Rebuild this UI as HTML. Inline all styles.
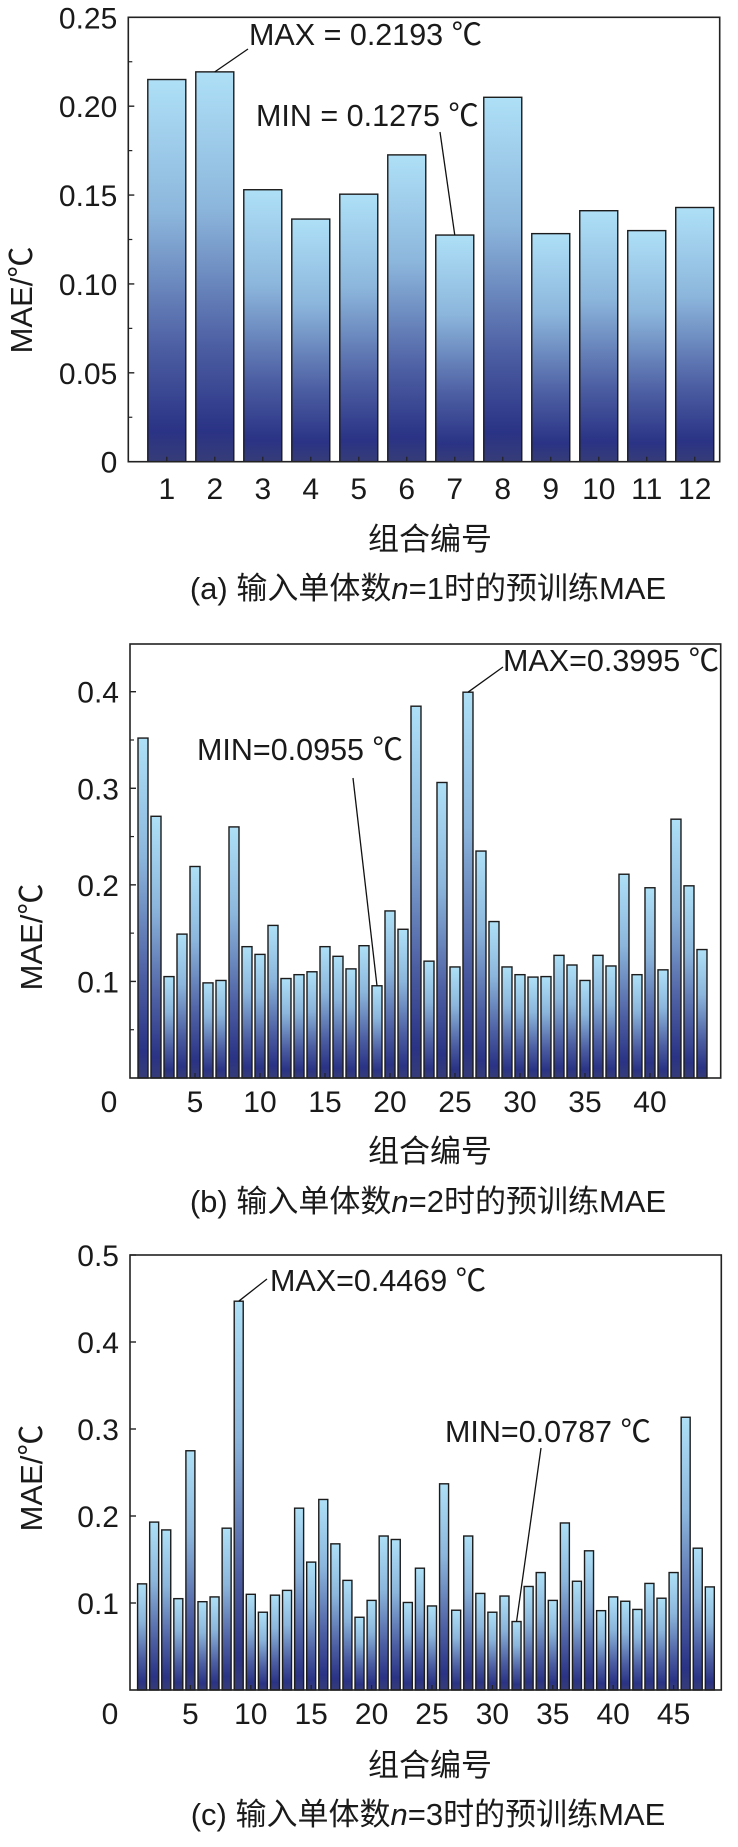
<!DOCTYPE html>
<html><head><meta charset="utf-8">
<style>
html,body{margin:0;padding:0;background:#fff;}
svg{display:block;}
text{font-family:"Liberation Sans","Noto Sans CJK SC",sans-serif;fill:#1a1a1a;}
</style></head>
<body>
<svg id="fig" width="738" height="1847" viewBox="0 0 738 1847" xmlns="http://www.w3.org/2000/svg">
<defs>
<linearGradient id="barGrad" x1="0" y1="0" x2="0" y2="1">
<stop offset="0" stop-color="#aee0f7"/>
<stop offset="0.35" stop-color="#8cb6dc"/>
<stop offset="0.7" stop-color="#4d5fa3"/>
<stop offset="0.92" stop-color="#2a3385"/>
<stop offset="1" stop-color="#363c78"/>
</linearGradient>
</defs>
<g id="chartA"></g>
<g id="chartB"></g>
<g id="chartC"></g>
</svg>
<script>
// Chart (a) data
const catsA = [1,2,3,4,5,6,7,8,9,10,11,12];
const valsA = [0.215,0.2193,0.153,0.1365,0.1505,0.1726,0.1275,0.205,0.1283,0.1412,0.130,0.143];
const yTicksA = [0,0.05,0.10,0.15,0.20,0.25];
const yTickLabelsA = ["0","0.05","0.10","0.15","0.20","0.25"];
const xTickLabelsA = ["1","2","3","4","5","6","7","8","9","10","11","12"];
// Chart (b) data
const valsB = [0.352,0.271,0.105,0.149,0.219,0.0985,0.101,0.260,0.136,0.128,0.158,0.103,0.107,0.110,0.136,0.126,0.113,0.137,0.0955,0.173,0.154,0.385,0.121,0.306,0.115,0.3995,0.235,0.162,0.115,0.107,0.1045,0.105,0.127,0.117,0.101,0.127,0.116,0.211,0.107,0.197,0.112,0.268,0.199,0.133];
const yTicksB = [0.1,0.2,0.3,0.4];
const yTickLabelsB = ["0.1","0.2","0.3","0.4"];
const xTicksB = [5,10,15,20,25,30,35,40];
// Chart (c) data
const valsC = [0.122,0.193,0.184,0.105,0.275,0.1015,0.107,0.186,0.4469,0.110,0.0894,0.109,0.1145,0.209,0.147,0.219,0.168,0.126,0.0836,0.103,0.177,0.173,0.1006,0.140,0.0966,0.237,0.0917,0.177,0.111,0.0894,0.108,0.0787,0.119,0.135,0.103,0.192,0.125,0.160,0.0912,0.107,0.102,0.0926,0.1225,0.1055,0.135,0.3135,0.163,0.1185];
const yTicksC = [0.1,0.2,0.3,0.4,0.5];
const yTickLabelsC = ["0.1","0.2","0.3","0.4","0.5"];
const xTicksC = [5,10,15,20,25,30,35,40,45];

const NS = "http://www.w3.org/2000/svg";
function mk(parent, tag, attrs, txt){
  const e = document.createElementNS(NS, tag);
  for (const k in attrs) e.setAttribute(k, attrs[k]);
  if (txt !== undefined) e.textContent = txt;
  parent.appendChild(e);
  return e;
}

function drawChart(g, cfg){
  const L=cfg.left,R=cfg.right,T=cfg.top,B=cfg.bottom;
  const xs = v => L + (v - cfg.xmin)/(cfg.xmax - cfg.xmin)*(R-L);
  const ys = v => B - (v - cfg.ymin)/(cfg.ymax - cfg.ymin)*(B-T);
  cfg.vals.forEach((v,i)=>{
    const cx = xs(cfg.xpos[i]);
    const r = mk(g,'rect',{x:cx-cfg.bw/2,y:ys(v),width:cfg.bw,height:ys(0)-ys(v),fill:'url(#barGrad)',stroke:'#1c1c1c','stroke-width':1.4});
    
    
  });
  const f = mk(g,'rect',{x:L,y:T,width:R-L,height:B-T,fill:'none',stroke:'#222','stroke-width':1.6});
  
  
  cfg.yticks.forEach((t,i)=>{
    mk(g,'line',{x1:L,x2:L+6,y1:ys(t),y2:ys(t),stroke:'#222','stroke-width':1.4});
    const tx = mk(g,'text',{x:L-11,y:ys(t)+11,'text-anchor':'end','font-size':30},cfg.ylabels[i]);
    
    
  });
  (cfg.yminor||[]).forEach(t=>{
    mk(g,'line',{x1:L,x2:L+4,y1:ys(t),y2:ys(t),stroke:'#222','stroke-width':1.2});
  });
  cfg.xticks.forEach((t,i)=>{
    mk(g,'line',{x1:xs(t),x2:xs(t),y1:B,y2:B-5,stroke:'#222','stroke-width':1.2});
    const tx = mk(g,'text',{x:xs(t),y:cfg.xlabY,'text-anchor':'middle','font-size':30},cfg.xlabels[i]);
    
    
  });
  if (cfg.zeroX){
    const z = mk(g,'text',{x:cfg.zeroX,y:cfg.xlabY,'text-anchor':'middle','font-size':30},'0');
    
    
  }
  const yt = mk(g,'text',{x:0,y:0,'text-anchor':'middle','font-size':31,transform:`translate(${cfg.ytX},${cfg.ytY}) rotate(-90)`},'MAE/℃');
  
  
  const xt = mk(g,'text',{x:430,y:cfg.xtY,'text-anchor':'middle','font-size':31},'组合编号');
  
  
  const cap = mk(g,'text',{x:428,y:cfg.capY,'text-anchor':'middle','font-size':31});
  mk(cap,'tspan',{},cfg.capPre);
  mk(cap,'tspan',{'font-style':'italic'},'n');
  mk(cap,'tspan',{},cfg.capPost);
  
  
  cfg.ann.forEach(a=>{
    const bx = xs(cfg.xpos[a.idx]), by = ys(cfg.vals[a.idx]);
    mk(g,'line',{x1:a.lx,y1:a.ly,x2:bx,y2:by,stroke:'#111','stroke-width':1.3});
    const t = mk(g,'text',{x:a.tx,y:a.ty,'font-size':30.5},a.text);
    
    
  });
}

drawChart(document.getElementById('chartA'),{
  left:128.3,right:719.7,top:17.3,bottom:461.7,xmin:0.198,xmax:12.52,ymin:0,ymax:0.25,
  vals:valsA,xpos:catsA,bw:38,
  yticks:yTicksA,ylabels:yTickLabelsA,yminor:[0.025,0.075,0.125,0.175,0.225],
  xticks:catsA,xlabels:xTickLabelsA,xlabY:499,
  ytX:32,ytY:300,xtY:550,capY:599,capPre:'(a) 输入单体数',capPost:'=1时的预训练MAE',
  ann:[{idx:1,lx:248,ly:49,tx:249,ty:45,text:'MAX = 0.2193 ℃',name:'max-annotation'},
       {idx:6,lx:440,ly:132,tx:256,ty:126,text:'MIN = 0.1275 ℃',name:'min-annotation'}]
});
drawChart(document.getElementById('chartB'),{
  left:130,right:720.7,top:644,bottom:1078,xmin:0,xmax:45.44,ymin:0,ymax:0.4494,
  vals:valsB,xpos:valsB.map((_,i)=>i+1),bw:10,
  yticks:yTicksB,ylabels:yTickLabelsB,yminor:[0.05,0.15,0.25,0.35],
  xticks:xTicksB,xlabels:xTicksB.map(String),xlabY:1112,zeroX:109,
  ytX:42,ytY:937,xtY:1162,capY:1212,capPre:'(b) 输入单体数',capPost:'=2时的预训练MAE',
  ann:[{idx:25,lx:503,ly:667,tx:503,ty:671,text:'MAX=0.3995 ℃',name:'max-annotation'},
       {idx:18,lx:353,ly:778,tx:197,ty:760,text:'MIN=0.0955 ℃',name:'min-annotation'}]
});
drawChart(document.getElementById('chartC'),{
  left:130,right:721.3,top:1255,bottom:1690,xmin:0,xmax:48.95,ymin:0,ymax:0.5,
  vals:valsC,xpos:valsC.map((_,i)=>i+1),bw:9,
  yticks:yTicksC,ylabels:yTickLabelsC,yminor:[],
  xticks:xTicksC,xlabels:xTicksC.map(String),xlabY:1724,zeroX:110,
  ytX:42,ytY:1478,xtY:1776,capY:1825,capPre:'(c) 输入单体数',capPost:'=3时的预训练MAE',
  ann:[{idx:8,lx:267,ly:1279,tx:270,ty:1291,text:'MAX=0.4469 ℃',name:'max-annotation'},
       {idx:31,lx:541,ly:1448,tx:445,ty:1442,text:'MIN=0.0787 ℃',name:'min-annotation'}]
});
</script>
</body></html>
